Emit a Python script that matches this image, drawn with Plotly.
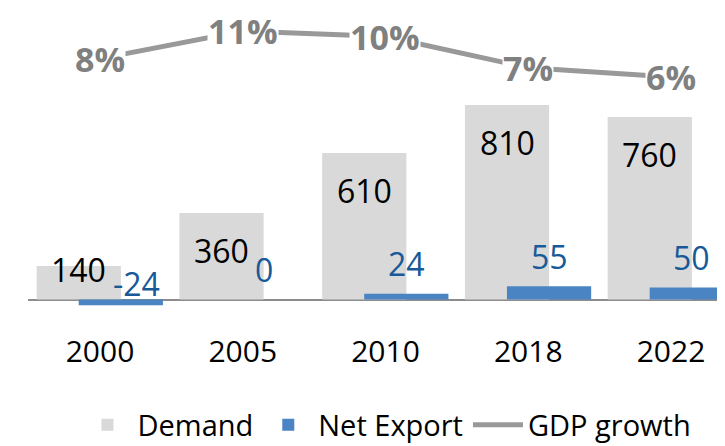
import plotly.graph_objects as go

# ---- data ----
years = ["2000", "2005", "2010", "2018", "2022"]
demand = [140, 360, 610, 810, 760]
net_export = [-24, 0, 24, 55, 50]
gdp_growth = [8.0, 11.0, 10.4, 7.0, 6.0]

# ---- styling / layout constants ----
# page body has an 8px margin, so the figure is drawn at (8, 8)
FONT = "Open Sans"
W, H = 717, 438
M_L, M_R, M_T, M_B = 20, 0, 0, 126
plot_h = H - M_T - M_B
base_px = 291.5            # pixel row of zero line (figure coords)
k = 0.24                   # px per unit (bars)
y_top = base_px / k
y_bot = -(plot_h - base_px) / k

g_px = 9.2                 # px per % (line)
g_top = 11 + 23 / g_px
g_bot = g_top - plot_h / g_px

cat_px = 142.75
x_left = -0.5 - (20.6 - M_L) / cat_px
x_right = x_left + (W - M_L - M_R) / cat_px

bar_w = 0.59
off_d = -0.4435
off_n = -0.149

C_DEM = "#d9d9d9"
C_NET = "#4a84c3"
C_NET_TXT = "#185a98"
C_GDP = "#999999"
C_GDP_TXT = "#808080"

fig = go.Figure()
fig.add_trace(go.Bar(
    name="Demand", x=years, y=demand, marker_color=C_DEM,
    width=bar_w, offset=off_d, marker_line_width=0,
))
fig.add_trace(go.Bar(
    name="Net Export", x=years, y=net_export, marker_color=C_NET,
    width=bar_w, offset=off_n, marker_line_width=0,
))
fig.add_trace(go.Scatter(
    name="GDP growth", x=years, y=gdp_growth, yaxis="y2",
    mode="lines", line=dict(color=C_GDP, width=5),
))

ann = []
for i, v in enumerate(demand):
    ann.append(dict(
        x=i + off_d + bar_w / 2, y=v, xref="x", yref="y",
        text=str(v), showarrow=False, yanchor="middle",
        yshift=-min(37, v * k - 30),
        font=dict(family=FONT, size=32, color="#000000"),
    ))
for i, v in enumerate(net_export):
    ann.append(dict(
        x=i + off_n + bar_w / 2, y=max(v, 0), xref="x", yref="y",
        text=str(v), showarrow=False, yanchor="middle",
        yshift=30 if v >= 0 else 16, xshift=0 if v >= 0 else 16,
        font=dict(family=FONT, size=32, color=C_NET_TXT),
    ))
for i, g in enumerate(gdp_growth):
    ann.append(dict(
        x=i, y=g, xref="x", yref="y2",
        text=f"<b>{round(g)}%</b>", showarrow=False, yanchor="middle",
        bgcolor="white", borderpad=0,
        font=dict(family=FONT, size=34, color=C_GDP_TXT),
    ))

fig.update_layout(
    width=W, height=H,
    margin=dict(l=M_L, r=M_R, t=M_T, b=M_B, autoexpand=False),
    paper_bgcolor="white", plot_bgcolor="white",
    barmode="overlay",
    font=dict(family=FONT, size=30, color="#000000"),
    xaxis=dict(
        type="category", range=[x_left, x_right],
        showgrid=False, showline=False, zeroline=False, ticks="",
        tickfont=dict(family=FONT, size=30, color="#000000"),
        ticklabelstandoff=11, automargin=False,
    ),
    yaxis=dict(
        range=[y_bot, y_top], showgrid=False, showticklabels=False,
        zeroline=True, zerolinecolor="#8c8c8c", zerolinewidth=2,
        showline=False, automargin=False,
    ),
    yaxis2=dict(
        range=[g_bot, g_top], overlaying="y", side="right",
        showgrid=False, showticklabels=False, zeroline=False, showline=False,
        automargin=False,
    ),
    legend=dict(
        orientation="h", x=0.515, xanchor="center", y=-0.3365, yanchor="middle",
        font=dict(family=FONT, size=29, color="#000000"),
        itemwidth=50, traceorder="normal", bgcolor="rgba(0,0,0,0)",
    ),
    annotations=ann,
    showlegend=True,
)

fig.write_html("out.html")
